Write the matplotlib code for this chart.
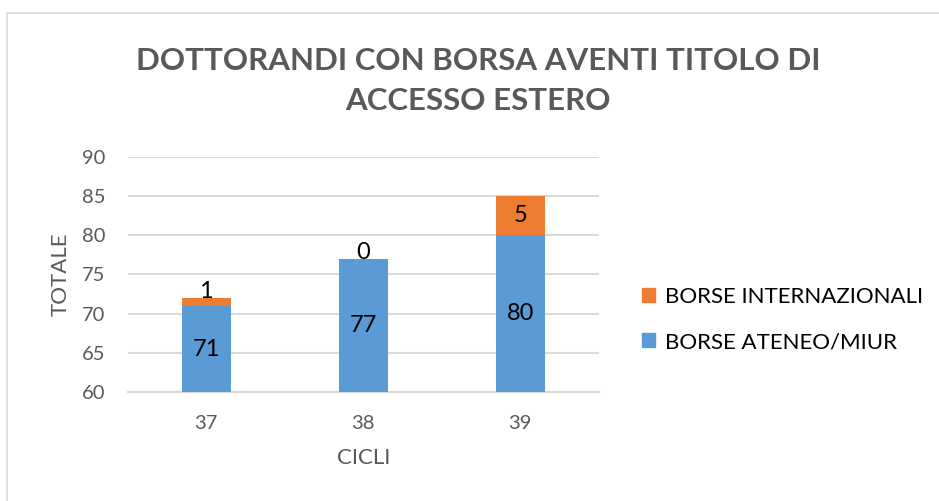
import matplotlib
matplotlib.use("Agg")
import matplotlib.pyplot as plt
from matplotlib.patches import Rectangle, Patch

cycles = ["37", "38", "39"]
ateneo = [71, 77, 80]
internazionali = [1, 0, 5]
y_ticks = [60, 65, 70, 75, 80, 85, 90]
title = "DOTTORANDI CON BORSA AVENTI TITOLO DI\nACCESSO ESTERO"
series_names = ["BORSE ATENEO/MIUR", "BORSE INTERNAZIONALI"]

BLUE = "#5B9BD5"
ORANGE = "#ED7D31"
GRID = "#D9D9D9"
GREY = "#595959"

plt.rcParams['font.family'] = ['Lato', 'DejaVu Sans']

fig = plt.figure(figsize=(9.39, 5.01), dpi=100)
fig.patches.append(Rectangle((6.5 / 939, -0.1), 1.2, 1.1 - 12.5 / 501,
                             transform=fig.transFigure, fill=False,
                             edgecolor=GRID, linewidth=1.2))
ax = fig.add_axes([0.136, 0.217, 0.5016, 0.4702])

x = list(range(len(cycles)))
width = 0.31
ax.bar(x, ateneo, width, color=BLUE, zorder=3, label=series_names[0])
ax.bar(x, internazionali, width, bottom=ateneo, color=ORANGE, zorder=3,
       label=series_names[1])

ax.set_xlim(-0.5, len(cycles) - 0.5)
ax.set_ylim(y_ticks[0], y_ticks[-1])
ax.set_yticks(y_ticks)
ax.set_xticks(x)
ax.set_xticklabels(cycles)
ax.grid(axis='y', color=GRID, linewidth=1.5, zorder=0)
for s in ['top', 'right', 'left']:
    ax.spines[s].set_visible(False)
ax.spines['bottom'].set_color(GRID)
ax.spines['bottom'].set_linewidth(1.5)
ax.tick_params(axis='both', length=0, labelsize=14.5, labelcolor=GREY)
ax.tick_params(axis='y', pad=16)
ax.tick_params(axis='x', pad=16)

ax.set_ylabel("TOTALE", fontsize=16, color=GREY, labelpad=8)
ax.set_xlabel("CICLI", fontsize=16, color=GREY, labelpad=12)

for i in x:
    ax.text(i, (y_ticks[0] + ateneo[i]) / 2, str(ateneo[i]), ha='center',
            va='center', fontsize=17, color='black', zorder=4)
    tot = ateneo[i] + internazionali[i]
    if internazionali[i] >= 2:
        ax.text(i, ateneo[i] + internazionali[i] / 2, str(internazionali[i]),
                ha='center', va='center', fontsize=17, color='black', zorder=4)
    else:
        ax.text(i, tot, str(internazionali[i]), ha='center', va='baseline',
                fontsize=17, color='black', zorder=4)

fig.text(0.509, 0.839, title, ha='center', va='center', fontsize=22.5,
         fontweight='bold', color=GREY, linespacing=1.52)

handles = [Patch(color=ORANGE), Patch(color=BLUE)]
fig.legend(handles, [series_names[1], series_names[0]], loc='center left',
           bbox_to_anchor=(0.672, 0.362), frameon=False, fontsize=16,
           handlelength=0.6, handleheight=0.6, handletextpad=0.45,
           labelspacing=1.12, borderpad=0)

fig.savefig("out.png", dpi=100)
